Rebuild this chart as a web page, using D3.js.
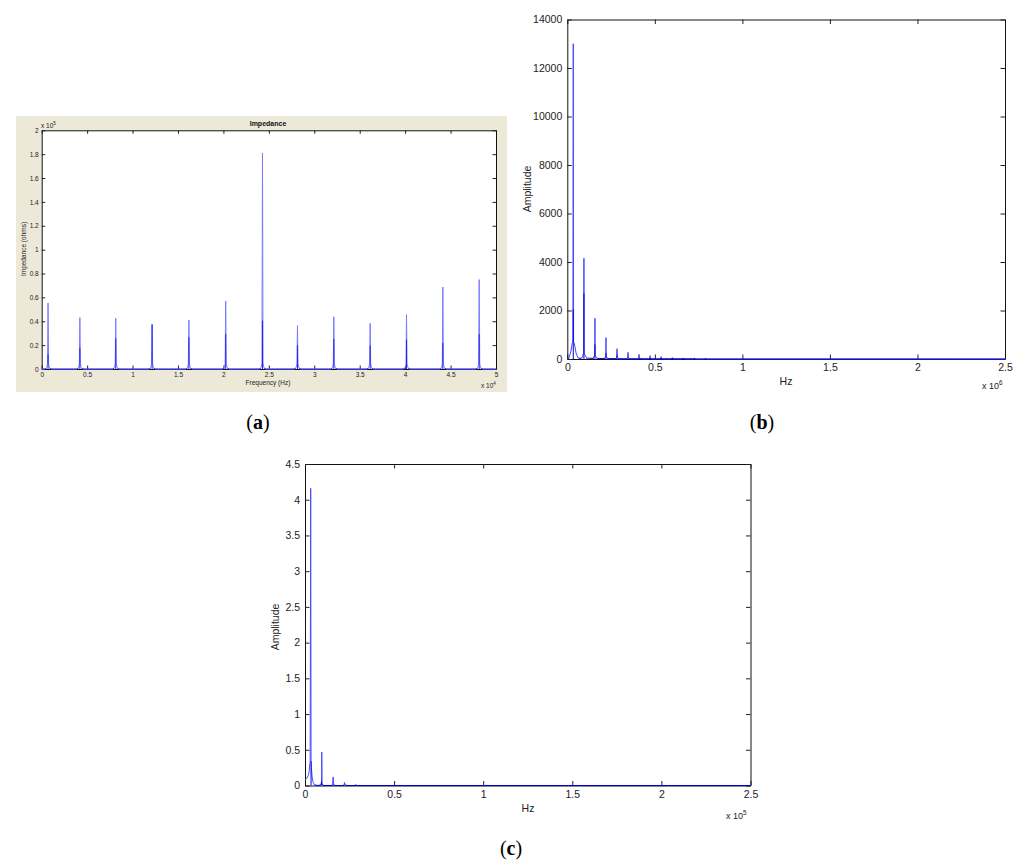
<!DOCTYPE html>
<html>
<head>
<meta charset="utf-8">
<script src="https://cdn.jsdelivr.net/npm/d3@7"></script>
<style>
    body { margin: 0; background: #fff; }
    svg { display: block; font-family: "Liberation Sans", Arial, sans-serif; }
</style>
</head>
<body>
<svg id="fig" width="1024" height="867"></svg>
<script>
// ---- panel (a): impedance, x in 1e4 Hz, y in 1e5 ohms
const aXTicks = [0, 0.5, 1, 1.5, 2, 2.5, 3, 3.5, 4, 4.5, 5];
const aYTicks = [0, 0.2, 0.4, 0.6, 0.8, 1, 1.2, 1.4, 1.6, 1.8, 2];
const aCurve = [
    [0, 0],
    [0.035, 0], [0.055, 0.012], [0.064, 0.04], [0.07, 0.553], [0.076, 0.04], [0.085, 0.012], [0.105, 0],
    [0.385, 0], [0.405, 0.012], [0.414, 0.045], [0.42, 0.43], [0.426, 0.045], [0.435, 0.012], [0.455, 0],
    [0.78, 0], [0.8, 0.012], [0.809, 0.045], [0.815, 0.425], [0.821, 0.045], [0.83, 0.012], [0.85, 0],
    [1.18, 0], [1.2, 0.012], [1.209, 0.045], [1.215, 0.377], [1.221, 0.045], [1.23, 0.012], [1.25, 0],
    [1.585, 0], [1.605, 0.012], [1.614, 0.045], [1.62, 0.41], [1.626, 0.045], [1.635, 0.012], [1.655, 0],
    [1.99, 0], [2.01, 0.012], [2.019, 0.045], [2.025, 0.57], [2.031, 0.045], [2.04, 0.012], [2.06, 0],
    [2.395, 0], [2.415, 0.012], [2.424, 0.05], [2.43, 1.81], [2.436, 0.05], [2.445, 0.012], [2.465, 0],
    [2.78, 0], [2.8, 0.012], [2.809, 0.045], [2.815, 0.363], [2.821, 0.045], [2.83, 0.012], [2.85, 0],
    [3.18, 0], [3.2, 0.012], [3.209, 0.045], [3.215, 0.438], [3.221, 0.045], [3.23, 0.012], [3.25, 0],
    [3.58, 0], [3.6, 0.012], [3.609, 0.045], [3.615, 0.383], [3.621, 0.045], [3.63, 0.012], [3.65, 0],
    [3.98, 0], [4.0, 0.012], [4.009, 0.045], [4.015, 0.455], [4.021, 0.045], [4.03, 0.012], [4.05, 0],
    [4.38, 0], [4.4, 0.012], [4.409, 0.045], [4.415, 0.687], [4.421, 0.045], [4.43, 0.012], [4.45, 0],
    [4.78, 0], [4.8, 0.012], [4.809, 0.045], [4.815, 0.749], [4.821, 0.045], [4.83, 0.012], [4.85, 0],
    [5, 0]
];
const aStems = [
    [0.07, 0.123], [0.42, 0.179], [0.815, 0.257], [1.215, 0.37], [1.62, 0.265], [2.025, 0.293],
    [2.43, 0.405], [2.815, 0.2], [3.215, 0.251], [3.615, 0.196], [4.015, 0.246], [4.415, 0.218], [4.815, 0.293]
];

// ---- panel (b): amplitude spectrum, x in 1e6 Hz
const bXTicks = [0, 0.5, 1, 1.5, 2, 2.5];
const bYTicks = [0, 2000, 4000, 6000, 8000, 10000, 12000, 14000];
const bCurve = [
    [0, 0], [0.01, 50], [0.02, 300], [0.028, 650], [0.032, 700], [0.034, 13000], [0.036, 700],
    [0.04, 650], [0.05, 250], [0.06, 60], [0.075, 30],
    [0.085, 60], [0.09, 200], [0.094, 220], [0.095, 4150], [0.096, 200], [0.1, 180], [0.11, 40],
    [0.148, 30], [0.153, 120], [0.157, 130], [0.158, 1680], [0.159, 120], [0.163, 110], [0.172, 20],
    [0.212, 20], [0.217, 80], [0.22, 90], [0.221, 880], [0.222, 80], [0.226, 70], [0.234, 15],
    [0.276, 15], [0.281, 60], [0.284, 425], [0.287, 55], [0.295, 10],
    [0.34, 10], [0.344, 45], [0.347, 275], [0.35, 40], [0.357, 8],
    [0.404, 8], [0.407, 35], [0.41, 190], [0.413, 30], [0.42, 6],
    [0.467, 6], [0.47, 25], [0.473, 140], [0.476, 22], [0.483, 5],
    [0.53, 5], [0.533, 18], [0.536, 100], [0.539, 16], [0.546, 4],
    [0.596, 4], [0.6, 60], [0.604, 4],
    [0.659, 3], [0.663, 45], [0.667, 3],
    [0.722, 2], [0.726, 30], [0.73, 2],
    [0.786, 1], [0.79, 20], [0.794, 1],
    [2.5, 0]
];
const bStems = [[0.034, 2050], [0.095, 2710], [0.158, 600], [0.221, 230], [0.284, 120]];

// ---- panel (c): amplitude spectrum, x in 1e5 Hz
const cXTicks = [0, 0.5, 1, 1.5, 2, 2.5];
const cYTicks = [0, 0.5, 1, 1.5, 2, 2.5, 3, 3.5, 4, 4.5];
const cCurve = [
    [0, 0.075], [0.01, 0.1], [0.018, 0.14], [0.024, 0.2], [0.026, 0.3], [0.029, 0.31],
    [0.032, 4.16], [0.034, 0.34], [0.036, 0.25], [0.04, 0.12], [0.046, 0.04], [0.055, 0.01], [0.07, 0],
    [0.085, 0.005], [0.09, 0.02], [0.093, 0.06], [0.094, 0.467], [0.096, 0.02], [0.105, 0],
    [0.15, 0], [0.155, 0.01], [0.158, 0.12], [0.161, 0.01], [0.17, 0],
    [0.215, 0], [0.219, 0.01], [0.222, 0.042], [0.225, 0.01], [0.235, 0],
    [0.28, 0], [0.285, 0.012], [0.29, 0],
    [2.5, 0]
];
const cStems = [[0.034, 0.34], [0.093, 0.06]];

const svg = d3.select("#fig");
const plain = d => String(d);

function drawPanel(p) {
    let b = p.box;
    let x = d3.scaleLinear().domain([p.xTicks[0], p.xTicks[p.xTicks.length - 1]]).range([b.left, b.right]);
    let y = d3.scaleLinear().domain([p.yTicks[0], p.yTicks[p.yTicks.length - 1]]).range([b.bottom, b.top]);
    let g = svg.append("g");

    if (p.frame) {
        g.append("rect")
            .attr("x", p.frame.x).attr("y", p.frame.y)
            .attr("width", p.frame.w).attr("height", p.frame.h)
            .attr("fill", p.frame.fill);
    }
    g.append("rect")
        .attr("x", b.left).attr("y", b.top)
        .attr("width", b.right - b.left).attr("height", b.bottom - b.top)
        .attr("fill", "#fff");

    // thin strip along y = 0, where the trace looks darker
    svg.append("clipPath").attr("id", "base-" + p.id)
        .append("rect")
        .attr("x", b.left).attr("y", b.bottom - 0.8)
        .attr("width", b.right - b.left).attr("height", 1.8);

    let axes = [
        {ax: d3.axisBottom(x).tickValues(p.xTicks).tickFormat(plain), t: "translate(0," + b.bottom + ")"},
        {ax: d3.axisTop(x).tickValues(p.xTicks).tickFormat(""), t: "translate(0," + b.top + ")"},
        {ax: d3.axisLeft(y).tickValues(p.yTicks).tickFormat(plain), t: "translate(" + b.left + ",0)"},
        {ax: d3.axisRight(y).tickValues(p.yTicks).tickFormat(""), t: "translate(" + b.right + ",0)"}
    ];
    for (let a of axes) {
        let ag = g.append("g")
            .attr("transform", a.t)
            .call(a.ax.tickSize(-p.tick).tickSizeOuter(0).tickPadding(p.pad));
        ag.attr("font-family", null).attr("font-size", p.font);
        ag.select(".domain").attr("stroke", "#111");
        ag.selectAll(".tick line").attr("stroke", "#222");
        ag.selectAll("text").attr("fill", "#222");
    }

    let line = d3.line().x(d => x(d[0])).y(d => y(d[1]));
    g.append("path").datum(p.curve)
        .attr("d", line)
        .attr("fill", "none")
        .attr("stroke", p.curveColor)
        .attr("stroke-width", 1);
    g.append("path").datum(p.curve)
        .attr("d", line)
        .attr("fill", "none")
        .attr("clip-path", "url(#base-" + p.id + ")")
        .attr("stroke", p.stemColor)
        .attr("stroke-width", 1.2);
    g.selectAll(".stem").data(p.stems).join("line")
        .attr("class", "stem")
        .attr("x1", d => x(d[0])).attr("x2", d => x(d[0]))
        .attr("y1", y(0)).attr("y2", d => y(d[1]))
        .attr("stroke", p.stemColor)
        .attr("stroke-width", 1);

    // labels
    g.append("text")
        .attr("x", p.xLabel.x).attr("y", p.xLabel.y)
        .attr("text-anchor", "middle")
        .attr("font-size", p.font).attr("fill", "#222")
        .text(p.xLabel.text);
    g.append("text")
        .attr("transform", "translate(" + p.yLabel.x + "," + p.yLabel.y + ") rotate(-90)")
        .attr("text-anchor", "middle")
        .attr("font-size", p.font).attr("fill", "#222")
        .text(p.yLabel.text);
    for (let e of p.exps) {
        let t = g.append("text")
            .attr("x", e.x).attr("y", e.y)
            .attr("font-size", e.size).attr("fill", "#222");
        t.append("tspan").text("x 10");
        t.append("tspan").attr("dy", -e.size * 0.45).attr("font-size", e.size * 0.7).text(e.sup);
    }
    if (p.title) {
        g.append("text")
            .attr("x", p.title.x).attr("y", p.title.y)
            .attr("text-anchor", "middle")
            .attr("font-size", p.title.size).attr("font-weight", "bold").attr("fill", "#111")
            .text(p.title.text);
    }

    let cap = svg.append("text")
        .attr("x", p.caption.x).attr("y", p.caption.y)
        .attr("text-anchor", "middle")
        .attr("font-family", "'Liberation Serif', 'Times New Roman', serif")
        .attr("font-size", 20).attr("fill", "#000");
    cap.append("tspan").text("(");
    cap.append("tspan").attr("font-weight", "bold").text(p.caption.letter);
    cap.append("tspan").text(")");
}

drawPanel({
    id: "a",
    box: {left: 41.7, right: 496, top: 130.3, bottom: 369},
    frame: {x: 16, y: 116, w: 491, h: 276, fill: "#ece9d8"},
    xTicks: aXTicks, yTicks: aYTicks,
    curve: aCurve, stems: aStems,
    curveColor: "#7b7bff", stemColor: "#2626e6",
    tick: 3.5, pad: 3, font: 6.5,
    xLabel: {text: "Frequency (Hz)", x: 268, y: 385},
    yLabel: {text: "Impedance (ohms)", x: 26, y: 249},
    exps: [{x: 481, y: 388, sup: "4", size: 6.5}, {x: 41, y: 127.5, sup: "5", size: 6.5}],
    title: {text: "Impedance", x: 268, y: 126, size: 7},
    caption: {x: 258, y: 429, letter: "a"}
});

drawPanel({
    id: "b",
    box: {left: 567.3, right: 1005, top: 19.5, bottom: 359},
    xTicks: bXTicks, yTicks: bYTicks,
    curve: bCurve, stems: bStems,
    curveColor: "#4646ff", stemColor: "#0000d8",
    tick: 4.5, pad: 5, font: 10.5,
    xLabel: {text: "Hz", x: 786, y: 385},
    yLabel: {text: "Amplitude", x: 531, y: 189},
    exps: [{x: 982, y: 389, sup: "6", size: 9}],
    caption: {x: 762, y: 429, letter: "b"}
});

drawPanel({
    id: "c",
    box: {left: 305, right: 750.5, top: 464, bottom: 785.5},
    xTicks: cXTicks, yTicks: cYTicks,
    curve: cCurve, stems: cStems,
    curveColor: "#4a4aff", stemColor: "#0000d8",
    tick: 4.5, pad: 5, font: 10.5,
    xLabel: {text: "Hz", x: 528, y: 812},
    yLabel: {text: "Amplitude", x: 279, y: 627},
    exps: [{x: 726, y: 819, sup: "5", size: 9}],
    caption: {x: 511, y: 855, letter: "c"}
});
</script>
</body>
</html>
